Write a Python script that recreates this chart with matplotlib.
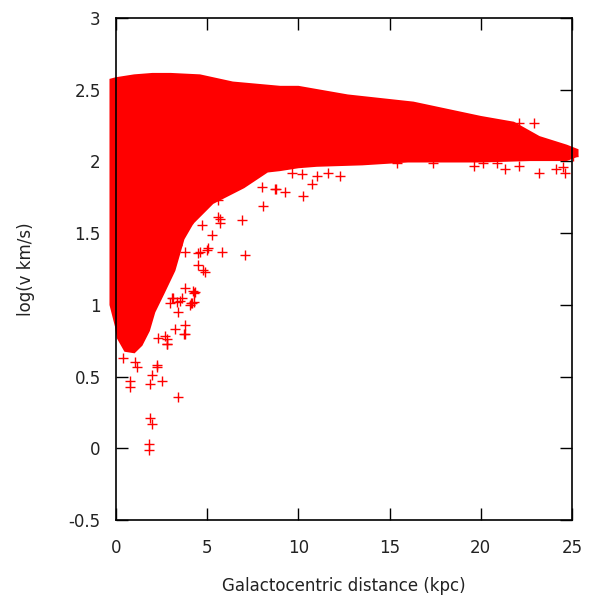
import numpy as np
import matplotlib.pyplot as plt

env_x_top = [-0.3, 0.0, 0.5, 1.0, 2.0, 3.0, 4.6, 6.4, 9.0, 10.0, 12.7, 16.3, 20.0, 21.8, 23.2, 24.7, 25.3]
env_y_top = [2.57, 2.58, 2.59, 2.60, 2.61, 2.61, 2.60, 2.55, 2.52, 2.52, 2.46, 2.41, 2.31, 2.27, 2.17, 2.11, 2.08]
env_x_bot = [-0.3, 0.0, 0.1, 0.5, 1.0, 1.4, 1.8, 2.1, 2.6, 3.2, 3.7, 4.2, 5.3, 7.0, 8.3, 9.0,
             10.0, 11.0, 13.5, 16.0, 20.0, 22.7, 24.7, 25.3]
env_y_bot = [1.00, 0.85, 0.77, 0.68, 0.67, 0.72, 0.82, 0.95, 1.08, 1.24, 1.46, 1.57, 1.71, 1.82, 1.93, 1.94,
             1.96, 1.97, 1.98, 2.00, 2.00, 2.01, 2.01, 2.04]

# isolated stars outside the dense band
out_r = [3.40, 1.86, 1.97, 1.81, 1.81, 0.77, 0.77, 1.97, 1.86, 2.52, 2.25, 0.38, 1.04, 1.15,
         3.78, 3.78, 3.23, 2.80, 2.69, 4.20, 4.30, 4.06, 3.78, 4.88, 4.50, 7.07, 5.80,
         8.06, 6.90, 8.70, 9.27, 8.00, 5.26, 4.70, 5.60, 5.70, 9.65, 5.00, 4.50, 3.78,
         10.25, 10.75, 12.30, 11.60, 11.00, 10.20, 15.40, 17.40, 19.60, 20.10, 21.30, 20.90, 22.10,
         23.20, 24.10, 24.60, 24.50, 22.10, 22.90, 25.05,
         3.12, 3.50, 4.17, 4.33, 2.96, 3.40, 2.30, 2.80, 3.34, 3.95,
         5.04, 4.60, 4.77, 4.28, 4.10, 3.73, 2.80, 2.25, 5.70, 5.60, 3.60, 3.35, 3.07, 8.77]
out_logv = [0.36, 0.21, 0.17, 0.03, -0.01, 0.47, 0.43, 0.51, 0.45, 0.47, 0.57, 0.63, 0.60, 0.57,
            0.86, 0.80, 0.83, 0.73, 0.78, 1.10, 1.02, 1.00, 1.12, 1.23, 1.28, 1.35, 1.37,
            1.69, 1.59, 1.81, 1.79, 1.82, 1.49, 1.56, 1.61, 1.57, 1.92, 1.38, 1.36, 1.37,
            1.76, 1.84, 1.90, 1.92, 1.90, 1.91, 1.99, 1.99, 1.97, 1.99, 1.95, 1.99, 1.97,
            1.92, 1.95, 1.92, 1.96, 2.27, 2.27, 2.04,
            1.05, 1.03, 1.01, 1.09, 1.01, 0.95, 0.77, 0.76, 1.42, 1.57,
            1.40, 1.37, 1.24, 1.08, 1.01, 0.80, 0.73, 0.58, 1.60, 1.73, 1.05, 1.02, 1.05, 1.81]

red = '#ff0000'
txt = '#222222'

fig = plt.figure(figsize=(5.9, 6.07), dpi=100, facecolor='white')
ax = fig.add_axes([0.1966, 0.1433, 0.7729, 0.8270])

band_x = np.concatenate([env_x_top, env_x_bot[::-1]])
band_y = np.concatenate([env_y_top, env_y_bot[::-1]])
ax.fill(band_x, band_y, color=red, lw=1.5, clip_on=False, zorder=2)
ax.plot(out_r, out_logv, '+', color=red, ms=7.5, mew=1.0, clip_on=False, zorder=2)

ax.set_xlim(0, 25)
ax.set_ylim(-0.5, 3)
ax.set_xticks([0, 5, 10, 15, 20, 25])
ax.set_yticks([-0.5, 0, 0.5, 1, 1.5, 2, 2.5, 3])
ax.set_yticklabels(['-0.5', '0', '0.5', '1', '1.5', '2', '2.5', '3'])
ax.tick_params(direction='in', length=8.5, width=1, top=True, right=True,
               labelsize=12, labelcolor=txt)
ax.tick_params(axis='x', pad=14)
ax.tick_params(axis='y', pad=11)
for s in ax.spines.values():
    s.set_linewidth(1.2)
    s.set_zorder(3)

ax.set_xlabel('Galactocentric distance (kpc)', fontsize=12, color=txt, labelpad=14)
ax.set_ylabel('log(v km/s)', fontsize=12, color=txt, labelpad=24)

fig.savefig('out.png', dpi=100)
